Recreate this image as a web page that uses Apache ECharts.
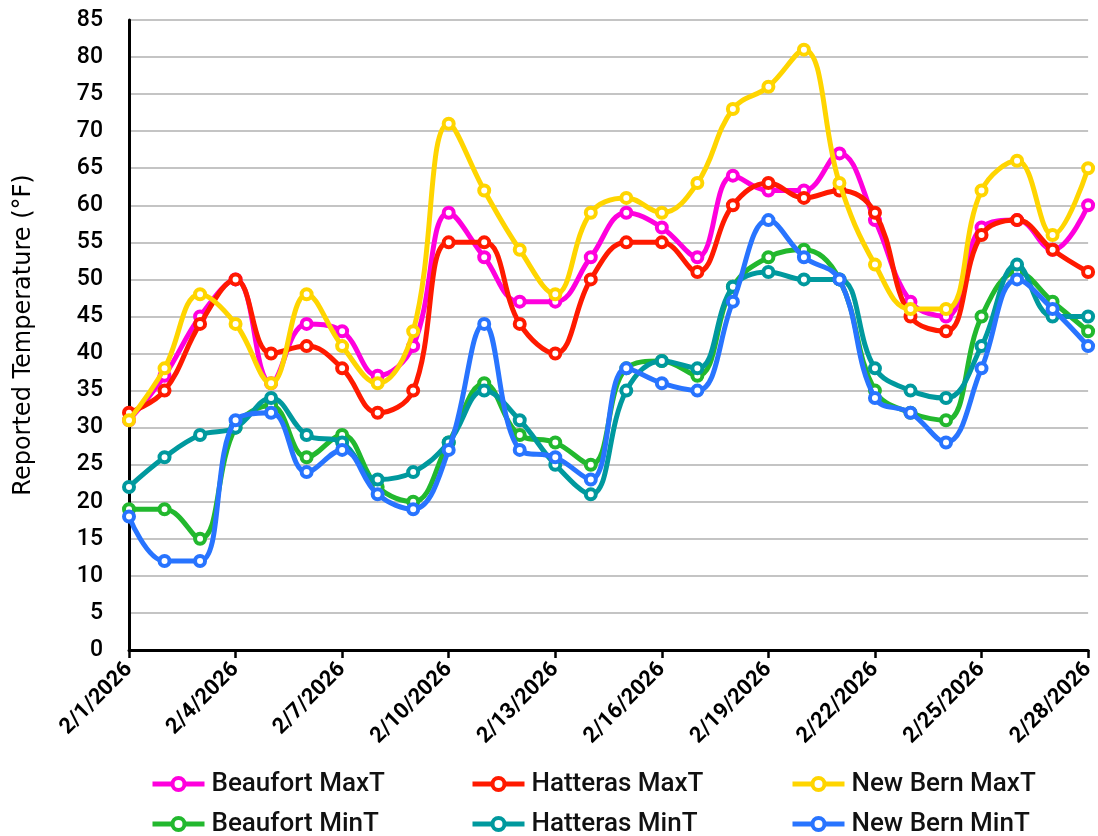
<!DOCTYPE html>
<html>
<head>
<meta charset="utf-8">
<script src="https://cdn.jsdelivr.net/npm/echarts@6/dist/echarts.min.js"></script>
<style>html,body{margin:0;padding:0;background:#fff}#c{width:1098px;height:836px}</style>
</head>
<body>
<div id="c"></div>
<script>
const categories = ["2/1/2026","2/2/2026","2/3/2026","2/4/2026","2/5/2026","2/6/2026","2/7/2026","2/8/2026","2/9/2026","2/10/2026","2/11/2026","2/12/2026","2/13/2026","2/14/2026","2/15/2026","2/16/2026","2/17/2026","2/18/2026","2/19/2026","2/20/2026","2/21/2026","2/22/2026","2/23/2026","2/24/2026","2/25/2026","2/26/2026","2/27/2026","2/28/2026"];
const beaufortMax = [31,37,45,50,36,44,43,37,41,59,53,47,47,53,59,57,53,64,62,62,67,58,47,45,57,58,54,60];
const hatterasMax = [32,35,44,50,40,41,38,32,35,55,55,44,40,50,55,55,51,60,63,61,62,59,45,43,56,58,54,51];
const newBernMax  = [31,38,48,44,36,48,41,36,43,71,62,54,48,59,61,59,63,73,76,81,63,52,46,46,62,66,56,65];
const beaufortMin = [19,19,15,30,33,26,29,22,20,28,36,29,28,25,38,39,37,49,53,54,50,35,32,31,45,51,47,43];
const hatterasMin = [22,26,29,30,34,29,28,23,24,28,35,31,25,21,35,39,38,49,51,50,50,38,35,34,41,52,45,45];
const newBernMin  = [18,12,12,31,32,24,27,21,19,27,44,27,26,23,38,36,35,47,58,53,50,34,32,28,38,50,46,41];
const seriesNames = ["Beaufort MaxT","Hatteras MaxT","New Bern MaxT","Beaufort MinT","Hatteras MinT","New Bern MinT"];
const seriesData = [beaufortMax,hatterasMax,newBernMax,beaufortMin,hatterasMin,newBernMin];
const colors = ["#FF00DD","#FF1A00","#FFD500","#22B82E","#00999E","#2874FF"];

const FONT = "Roboto, 'Noto Sans', sans-serif";
const chart = echarts.init(document.getElementById('c'), null, {renderer:'canvas'});

const legendPos = [
  {left:150, top:771},{left:470, top:771},{left:790, top:771},
  {left:150, top:811},{left:470, top:811},{left:790, top:811}
];

chart.setOption({
  animation:false,
  color: colors,
  grid:{left:129, right:9, top:20, bottom:186, containLabel:false},
  legend: seriesNames.map((n,i)=>({
    data:[n], left:legendPos[i].left, top:legendPos[i].top, padding:0,
    itemWidth:52, itemHeight:15, itemGap:0,
    lineStyle:{width:5},
    itemStyle:{borderWidth:4},
    textStyle:{fontFamily:FONT, fontSize:26, fontWeight:500, color:'#111', padding:[0,0,0,2]}
  })),
  xAxis:{
    type:'category', data:categories, boundaryGap:false,
    axisLine:{lineStyle:{color:'#000', width:3}},
    axisTick:{show:true, interval:2, length:8, lineStyle:{color:'#000', width:2.5}},
    axisLabel:{interval:2, rotate:45, fontFamily:FONT, fontSize:22, fontWeight:'bold', color:'#000', margin:16},
    splitLine:{show:false}
  },
  yAxis:{
    type:'value', min:0, max:85, interval:5,
    name:'Reported Temperature (°F)', nameLocation:'middle', nameGap:93, nameRotate:90,
    nameTextStyle:{fontFamily:"'DejaVu Sans', sans-serif", fontSize:24, color:'#000'},
    axisLine:{show:true, lineStyle:{color:'#000', width:3}},
    axisTick:{show:false},
    axisLabel:{fontFamily:FONT, fontSize:23, fontWeight:500, color:'#000', margin:26},
    splitLine:{lineStyle:{color:'#c4c4c4', width:2}}
  },
  series: seriesNames.map((n,i)=>({
    name:n, type:'line', data:seriesData[i], smooth:0.4,
    symbol:'circle', symbolSize:10, showSymbol:true,
    lineStyle:{width:5, color:colors[i]},
    itemStyle:{color:'#fff', borderColor:colors[i], borderWidth:4},
    z: 2+i
  }))
});
</script>
</body>
</html>
